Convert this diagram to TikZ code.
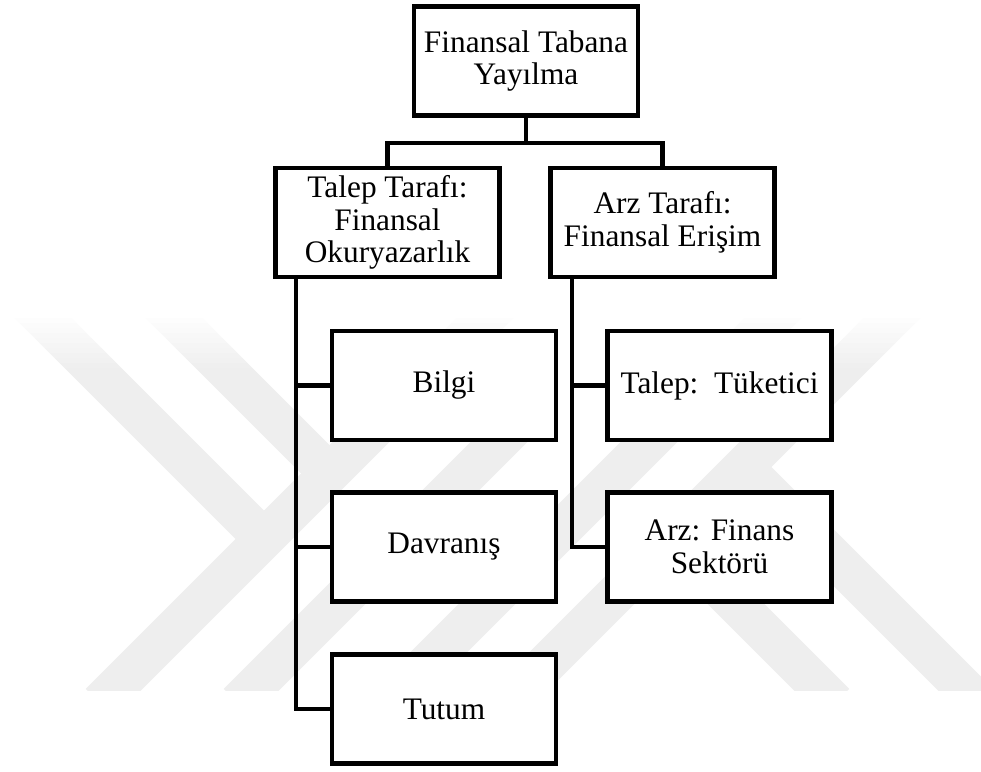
\documentclass[tikz,border=0pt]{standalone}
\usepackage{fontspec}
\setmainfont{Liberation Serif}
\definecolor{wmgray}{gray}{0.935}
\begin{document}
\begin{tikzpicture}[x=0.75pt,y=-0.75pt,
  box/.style={draw=black, line width=3.6pt, fill=white, minimum width=168pt,
    minimum height=81.75pt, align=center, inner sep=2pt,
    font=\fontsize{23.5}{24.4}\selectfont},
  conn/.style={draw=black, line width=3.6pt},
  wmband/.style={draw=wmgray, line width=30pt, line join=miter}]
\useasboundingbox (0,0) rectangle (981,771);
\fill[white] (0,0) rectangle (981,771);
% faint watermark
\begin{scope}
\clip (0,318) rectangle (981,690);
\draw[wmband] (500,303) -- (100,703);
\draw[wmband] (28,303) -- (264,539);
\draw[wmband] (159,303) -- (329.5,473.5);
\draw[wmband] (521,420) -- (238,703);
\draw[wmband] (788,303) -- (388,703);
\draw[wmband] (907,303) -- (507,703);
\draw[wmband] (743,467) -- (979,703);
\draw[wmband] (671,539) -- (835,703);
\end{scope}
% soft top edge of the watermark
\foreach \i in {0,...,9}
  \fill[white, opacity={0.9-\i*0.09}] (0,{318+\i*5}) rectangle (981,{323.4+\i*5});
% boxes
\node[box] (top) at (526,61) {Finansal Tabana\\Yayılma};
\node[box] (dem) at (387.5,222.5) {Talep Tarafı:\\Finansal\\Okuryazarlık};
\node[box] (arz) at (662.5,222.5) {Arz Tarafı:\\Finansal Erişim};
\node[box] (bilgi) at (444,385.5) {Bilgi};
\node[box] (davr) at (444,547) {Davranış};
\node[box] (tutum) at (444,709) {Tutum};
\node[box] (tuk) at (719.5,385.5) {Talep:\ \ Tüketici};
\node[box] (fin) at (719.5,547) {Arz: Finans\\Sektörü};
% connectors
\coordinate (bar) at (526,143);
\draw[conn] (top.south) -- (bar);
\draw[conn] (dem.north) |- (bar) -| (arz.north);
\coordinate (lt) at (296,279);
\draw[conn] (lt) |- (tutum.west);
\draw[conn] (bilgi.west -| lt) -- (bilgi.west);
\draw[conn] (davr.west -| lt) -- (davr.west);
\coordinate (rt) at (572,279);
\draw[conn] (rt) |- (fin.west);
\draw[conn] (tuk.west -| rt) -- (tuk.west);
\end{tikzpicture}
\end{document}
